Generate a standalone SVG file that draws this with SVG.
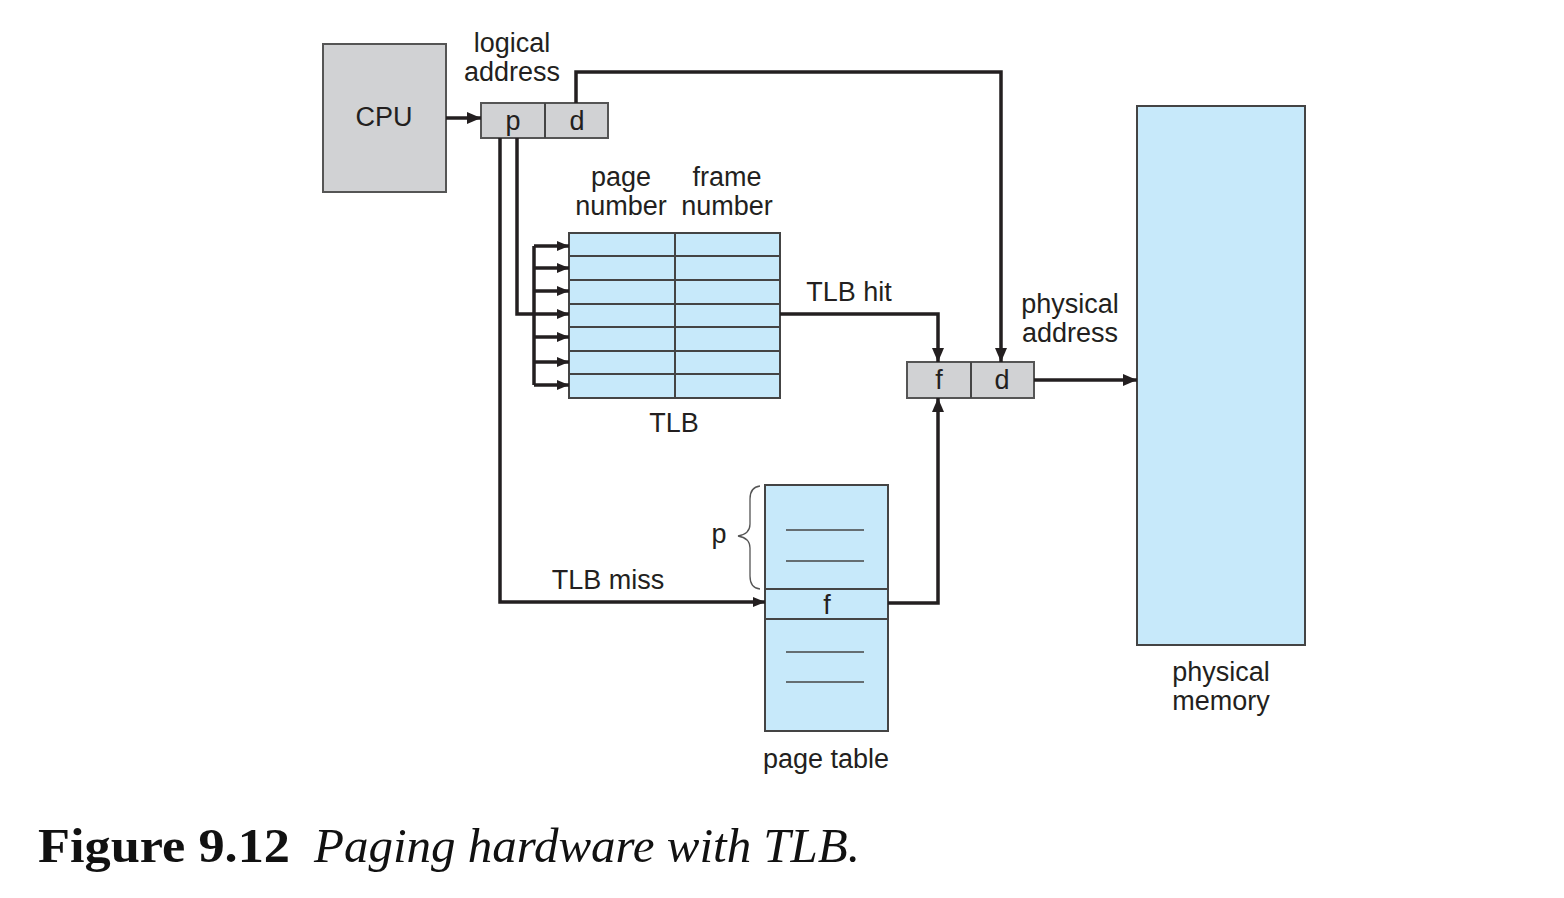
<svg xmlns="http://www.w3.org/2000/svg" width="1564" height="898" viewBox="0 0 1564 898">
<defs>
<marker id="ah" markerUnits="userSpaceOnUse" markerWidth="14" markerHeight="12" refX="14" refY="6" orient="auto"><path d="M0,0 L14,6 L0,12 z" fill="#231f20"/></marker>
<marker id="ahs" markerUnits="userSpaceOnUse" markerWidth="12" markerHeight="10" refX="12" refY="5" orient="auto"><path d="M0,0 L12,5 L0,10 z" fill="#231f20"/></marker>
</defs>
<style>
.lbl{font-family:"Liberation Sans",Arial,sans-serif;font-size:27px;fill:#231f20;text-anchor:middle}
.gray{fill:#d1d2d4;stroke:#555;stroke-width:2}
.blue{fill:#c7e9fa;stroke:#444;stroke-width:2}
.ln{stroke:#444;stroke-width:2;fill:none}
.thin{stroke:#444;stroke-width:1.5;fill:none}
.con{stroke:#231f20;stroke-width:3.5;fill:none;stroke-linejoin:miter}
</style>
<rect width="1564" height="898" fill="#fff"/>
<g id="cpu">
<rect class="gray" x="323" y="44" width="123" height="148"/>
<text class="lbl" x="384" y="126">CPU</text>
</g>
<g id="logical-address">
<rect class="gray" x="481" y="103" width="127" height="35"/>
<line class="ln" x1="545" y1="103" x2="545" y2="138"/>
<text class="lbl" x="513" y="130">p</text>
<text class="lbl" x="577" y="130">d</text>
<text class="lbl" x="512" y="52">logical</text>
<text class="lbl" x="512" y="81">address</text>
</g>
<g id="tlb">
<rect class="blue" x="569" y="233" width="211" height="165"/>
<line class="ln" x1="675" y1="233" x2="675" y2="398"/>
<line class="ln" x1="569" y1="256" x2="780" y2="256"/>
<line class="ln" x1="569" y1="280" x2="780" y2="280"/>
<line class="ln" x1="569" y1="304" x2="780" y2="304"/>
<line class="ln" x1="569" y1="327" x2="780" y2="327"/>
<line class="ln" x1="569" y1="351" x2="780" y2="351"/>
<line class="ln" x1="569" y1="374" x2="780" y2="374"/>
<text class="lbl" x="621" y="186">page</text>
<text class="lbl" x="621" y="215">number</text>
<text class="lbl" x="727" y="186">frame</text>
<text class="lbl" x="727" y="215">number</text>
<text class="lbl" x="674" y="432">TLB</text>
</g>
<g id="physical-address">
<rect class="gray" x="907" y="362" width="127" height="36"/>
<line class="ln" x1="971" y1="362" x2="971" y2="398"/>
<text class="lbl" x="939" y="389">f</text>
<text class="lbl" x="1002" y="389">d</text>
<text class="lbl" x="1070" y="313">physical</text>
<text class="lbl" x="1070" y="342">address</text>
</g>
<g id="page-table">
<rect class="blue" x="765" y="485" width="123" height="246"/>
<line class="ln" x1="765" y1="589" x2="888" y2="589"/>
<line class="ln" x1="765" y1="619" x2="888" y2="619"/>
<line class="thin" x1="786" y1="530" x2="864" y2="530"/>
<line class="thin" x1="786" y1="561" x2="864" y2="561"/>
<line class="thin" x1="786" y1="652" x2="864" y2="652"/>
<line class="thin" x1="786" y1="682" x2="864" y2="682"/>
<text class="lbl" x="827" y="614">f</text>
<path d="M760,486 Q750,487 750,499 V524 Q750,534 738,536 Q750,538 750,548 V576 Q750,588 760,589" fill="none" stroke="#555" stroke-width="1.3"/>
<text class="lbl" x="719" y="543">p</text>
<text class="lbl" x="826" y="768">page table</text>
</g>
<g id="physical-memory">
<rect class="blue" x="1137" y="106" width="168" height="539"/>
<text class="lbl" x="1221" y="681">physical</text>
<text class="lbl" x="1221" y="710">memory</text>
</g>
<g id="connectors">
<path class="con" d="M446,118 H481" marker-end="url(#ah)"/>
<path class="con" d="M576,103 V72 H1001 V362" marker-end="url(#ah)"/>
<path class="con" d="M517,138 V314 H569" stroke-width="3" marker-end="url(#ahs)"/>
<path class="con" d="M534,246 V385" stroke-width="3"/>
<path class="con" d="M534,246 H569" stroke-width="3" marker-end="url(#ahs)"/>
<path class="con" d="M534,268 H569" stroke-width="3" marker-end="url(#ahs)"/>
<path class="con" d="M534,291 H569" stroke-width="3" marker-end="url(#ahs)"/>
<path class="con" d="M534,337 H569" stroke-width="3" marker-end="url(#ahs)"/>
<path class="con" d="M534,362 H569" stroke-width="3" marker-end="url(#ahs)"/>
<path class="con" d="M534,385 H569" stroke-width="3" marker-end="url(#ahs)"/>
<path class="con" d="M500,138 V602 H765" stroke-width="2.5" marker-end="url(#ahs)"/>
<path class="con" d="M780,314 H938 V362" marker-end="url(#ah)"/>
<path class="con" d="M888,603 H938 V398" marker-end="url(#ah)"/>
<path class="con" d="M1034,380 H1137" marker-end="url(#ah)"/>
<text class="lbl" x="849" y="301">TLB hit</text>
<text class="lbl" x="608" y="589">TLB miss</text>
</g>
<g id="caption">
<text x="38" y="862" font-family="'Liberation Serif','Times New Roman',serif" font-weight="bold" font-size="48" fill="#111" textLength="252" lengthAdjust="spacingAndGlyphs">Figure 9.12</text>
<text x="314" y="862" font-family="'Liberation Serif','Times New Roman',serif" font-style="italic" font-size="48" fill="#111" textLength="546" lengthAdjust="spacingAndGlyphs">Paging hardware with TLB.</text>
</g>
</svg>
